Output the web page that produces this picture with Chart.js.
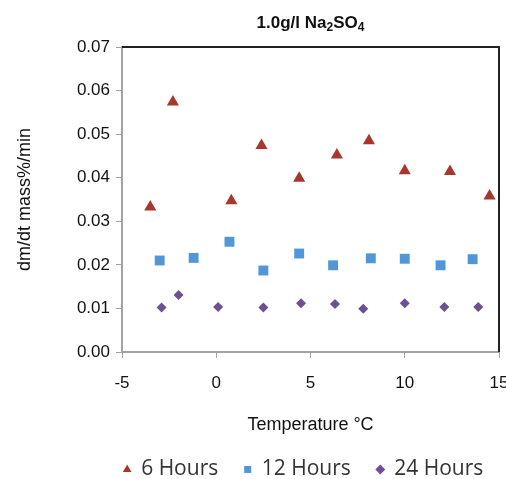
<!DOCTYPE html>
<html>
<head>
<meta charset="utf-8">
<script src="https://cdn.jsdelivr.net/npm/chart.js@4"></script>
<style>
  html, body { margin: 0; padding: 0; background: #fff; }
  #wrap { width: 506px; height: 479px; }
</style>
</head>
<body>
<div id="wrap"><canvas id="myChart" width="506" height="479"></canvas></div>
<script>
// temperature (°C) / rate readings for each exposure time
const temp6h = [-3.5, -2.3, 0.8, 2.4, 4.4, 6.4, 8.1, 10.0, 12.4, 14.5];
const rate6h = [0.0333, 0.0574, 0.0347, 0.0474, 0.0399, 0.0452, 0.0485, 0.0416, 0.0414, 0.0358];

const temp12h = [-3.0, -1.2, 0.7, 2.5, 4.4, 6.2, 8.2, 10.0, 11.9, 13.6];
const rate12h = [0.0210, 0.0216, 0.0253, 0.0187, 0.0226, 0.0199, 0.0215, 0.0214, 0.0199, 0.0213];

const temp24h = [-2.9, -2.0, 0.1, 2.5, 4.5, 6.3, 7.8, 10.0, 12.1, 13.9];
const rate24h = [0.0102, 0.0131, 0.0103, 0.0102, 0.0112, 0.0110, 0.0099, 0.0112, 0.0103, 0.0103];

const xTicks = [-5, 0, 5, 10, 15];
const yTicks = [0, 0.01, 0.02, 0.03, 0.04, 0.05, 0.06, 0.07];

// title pieces: [text, isSubscript]
const titleParts = [["1.0g/l Na", false], ["2", true], ["SO", false], ["4", true]];

const FONT = "Liberation Sans, Arial, sans-serif";

function toPoints(xs, ys) {
  return xs.map((x, i) => ({ x: x, y: ys[i] }));
}

// chart title with real subscripts, centred over the plot
const subTitle = {
  id: "subTitle",
  afterDraw(chart) {
    const { ctx, chartArea: a } = chart;
    const big = "bold 17px " + FONT;
    const small = "bold 12px " + FONT;
    ctx.save();
    ctx.fillStyle = "#111";
    ctx.textBaseline = "alphabetic";
    let total = 0;
    titleParts.forEach(([t, sub]) => {
      ctx.font = sub ? small : big;
      total += ctx.measureText(t).width;
    });
    let x = (a.left + a.right) / 2 - total / 2;
    const base = 28;
    titleParts.forEach(([t, sub]) => {
      ctx.font = sub ? small : big;
      ctx.fillText(t, x, sub ? base + 3 : base);
      x += ctx.measureText(t).width;
    });
    ctx.restore();
  }
};

// dark frame on the top and right of the plot
const frame = {
  id: "frame",
  afterDraw(chart) {
    const { ctx, chartArea: a } = chart;
    ctx.save();
    ctx.strokeStyle = "#222";
    ctx.lineWidth = 2;
    ctx.beginPath();
    ctx.moveTo(a.left, a.top);
    ctx.lineTo(a.right, a.top);
    ctx.lineTo(a.right, a.bottom);
    ctx.stroke();
    ctx.restore();
  }
};

// legend sits under the plot centre, a little lower than the default
const legendPlace = {
  id: "legendPlace",
  afterLayout(chart) {
    const lg = chart.legend;
    const dx = 54;
    lg.left += dx;
    lg.right += dx;
    lg.top = 433;
    lg.bottom = chart.height;
  }
};

const ctx = document.getElementById("myChart");
new Chart(ctx, {
  type: "scatter",
  data: {
    datasets: [
      {
        label: "6 Hours",
        data: toPoints(temp6h, rate6h),
        pointStyle: "triangle",
        pointRadius: 7,
        backgroundColor: "#A5372C",
        borderColor: "#A5372C",
        borderWidth: 0
      },
      {
        label: "12 Hours",
        data: toPoints(temp12h, rate12h),
        pointStyle: "rect",
        pointRadius: 7,
        backgroundColor: "#4F97D8",
        borderColor: "#4F97D8",
        borderWidth: 0
      },
      {
        label: "24 Hours",
        data: toPoints(temp24h, rate24h),
        pointStyle: "rectRot",
        pointRadius: 5,
        backgroundColor: "#6D5093",
        borderColor: "#6D5093",
        borderWidth: 0
      }
    ]
  },
  options: {
    responsive: false,
    animation: false,
    layout: { padding: { left: 0, right: 7, top: 47, bottom: 0 } },
    plugins: {
      title: { display: false },
      legend: {
        position: "bottom",
        maxHeight: 40,
        labels: {
          usePointStyle: true,
          boxWidth: 7,
          boxHeight: 7,
          padding: 26,
          color: "#333",
          font: { family: "Open Sans, sans-serif", size: 21 }
        }
      },
      tooltip: { enabled: false }
    },
    scales: {
      x: {
        type: "linear",
        min: -5,
        max: 15,
        afterBuildTicks(scale) {
          scale.ticks = xTicks.map(v => ({ value: v }));
        },
        afterFit(scale) {
          scale.height = scale.chart.height - scale.chart.legend.height - 352;
          scale.paddingRight = 0;
        },
        border: { color: "#a3a3a3", width: 2 },
        grid: { drawOnChartArea: false, color: "#a3a3a3", tickLength: 6, lineWidth: 1 },
        ticks: {
          color: "#111",
          padding: 15,
          font: { family: FONT, size: 17 }
        },
        title: {
          display: true,
          text: "Temperature °C",
          color: "#111",
          font: { family: FONT, size: 18 },
          padding: { top: 0, bottom: 3 }
        }
      },
      y: {
        type: "linear",
        min: 0,
        max: 0.07,
        afterBuildTicks(scale) {
          scale.ticks = yTicks.map(v => ({ value: v }));
        },
        afterFit(scale) {
          scale.width = 122;
        },
        border: { color: "#a3a3a3", width: 2 },
        grid: { drawOnChartArea: false, color: "#a3a3a3", tickLength: 6, lineWidth: 1 },
        ticks: {
          color: "#111",
          padding: 6,
          font: { family: FONT, size: 17 },
          callback: v => v.toFixed(2)
        },
        title: {
          display: true,
          text: "dm/dt mass%/min",
          color: "#111",
          font: { family: FONT, size: 18 },
          padding: { top: 14, bottom: 0 }
        }
      }
    }
  },
  plugins: [subTitle, frame, legendPlace]
});
</script>
</body>
</html>
